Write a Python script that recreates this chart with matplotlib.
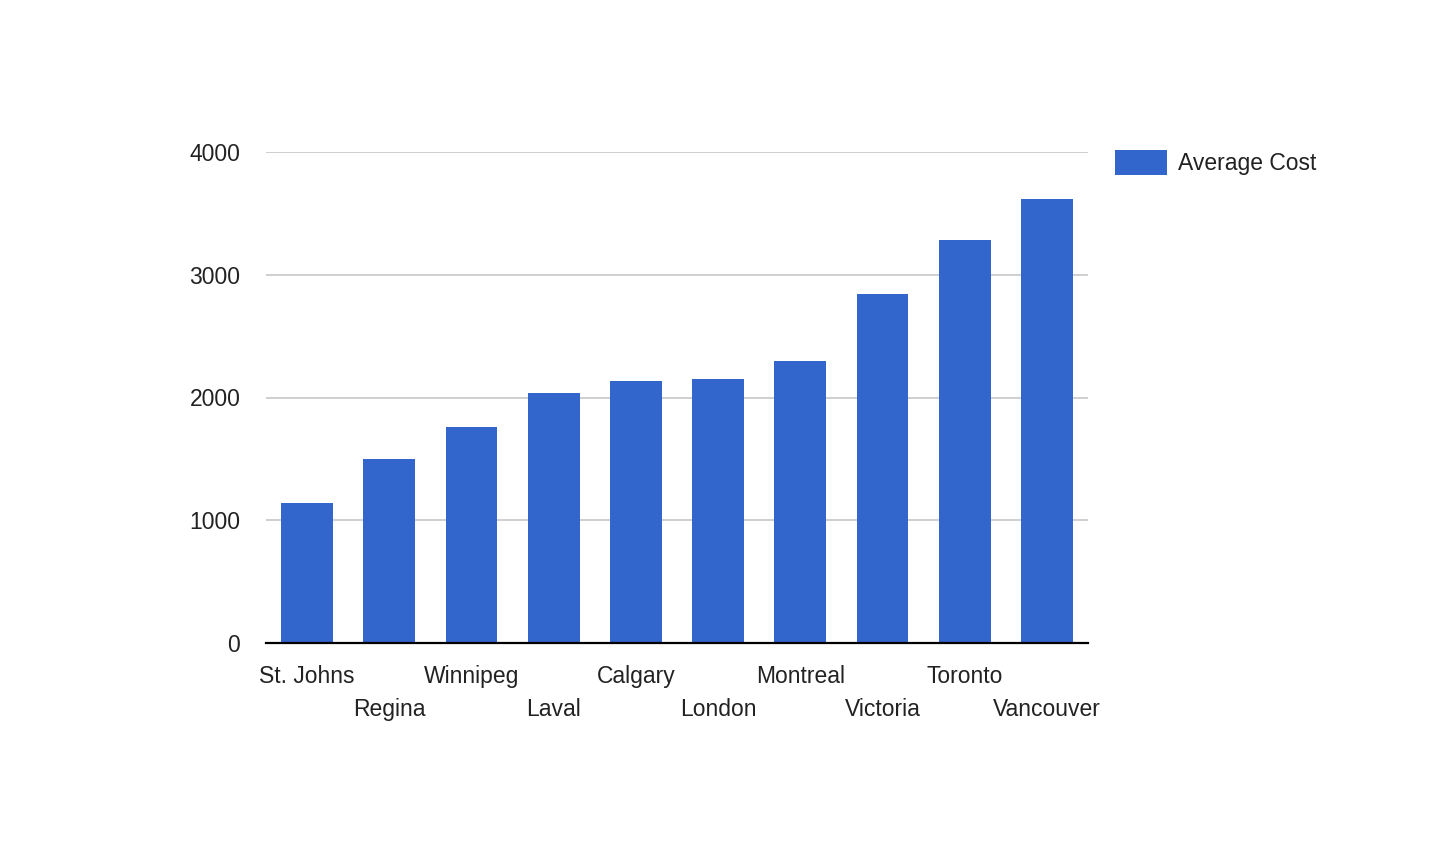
import matplotlib.pyplot as plt
from matplotlib.transforms import blended_transform_factory

cities = ['St. Johns', 'Regina', 'Winnipeg', 'Laval', 'Calgary',
          'London', 'Montreal', 'Victoria', 'Toronto', 'Vancouver']
avg_cost = [1140, 1500, 1760, 2040, 2135, 2150, 2300, 2840, 3280, 3618]
y_ticks = [0, 1000, 2000, 3000, 4000]

plt.rcParams['font.family'] = ['Liberation Sans', 'DejaVu Sans']

fig = plt.figure(figsize=(14.42, 8.64), dpi=100)
ax = fig.add_axes([266 / 1442, 1 - 643 / 864, 822 / 1442, 491 / 864])

x = list(range(len(cities)))
bars = ax.bar(x, avg_cost, width=0.63, color='#3366cc', label='Average Cost', zorder=2)

ax.set_xlim(-0.5, len(cities) - 0.5)
ax.set_ylim(0, 4000)
ax.set_yticks(y_ticks)
ax.set_yticklabels([str(v) for v in y_ticks], fontsize=16.5, color='#222222')
ax.tick_params(axis='y', length=0, pad=18.5)
ax.set_xticks([])
ax.grid(axis='y', color='#cccccc', linewidth=1.3, zorder=0)

for side in ['top', 'right', 'left']:
    ax.spines[side].set_visible(False)
ax.spines['bottom'].set_linewidth(1.6)
ax.spines['bottom'].set_color('black')
ax.spines['bottom'].set_zorder(3)

# staggered city labels, two rows
trans = blended_transform_factory(ax.transData, ax.transAxes)
for i, name in enumerate(cities):
    y = -0.0815 if i % 2 == 0 else -0.1487
    ax.text(i, y, name, transform=trans, ha='center', va='baseline',
            fontsize=16.5, color='#222222')

ax.legend(loc='upper left', bbox_to_anchor=(1115 / 1442, 1 - 150 / 864),
          bbox_transform=fig.transFigure, frameon=False, fontsize=16.5,
          handlelength=2.25, handleheight=1.3, handletextpad=0.5,
          borderpad=0, borderaxespad=0, labelcolor='#222222')

fig.savefig('out.png', dpi=100)
